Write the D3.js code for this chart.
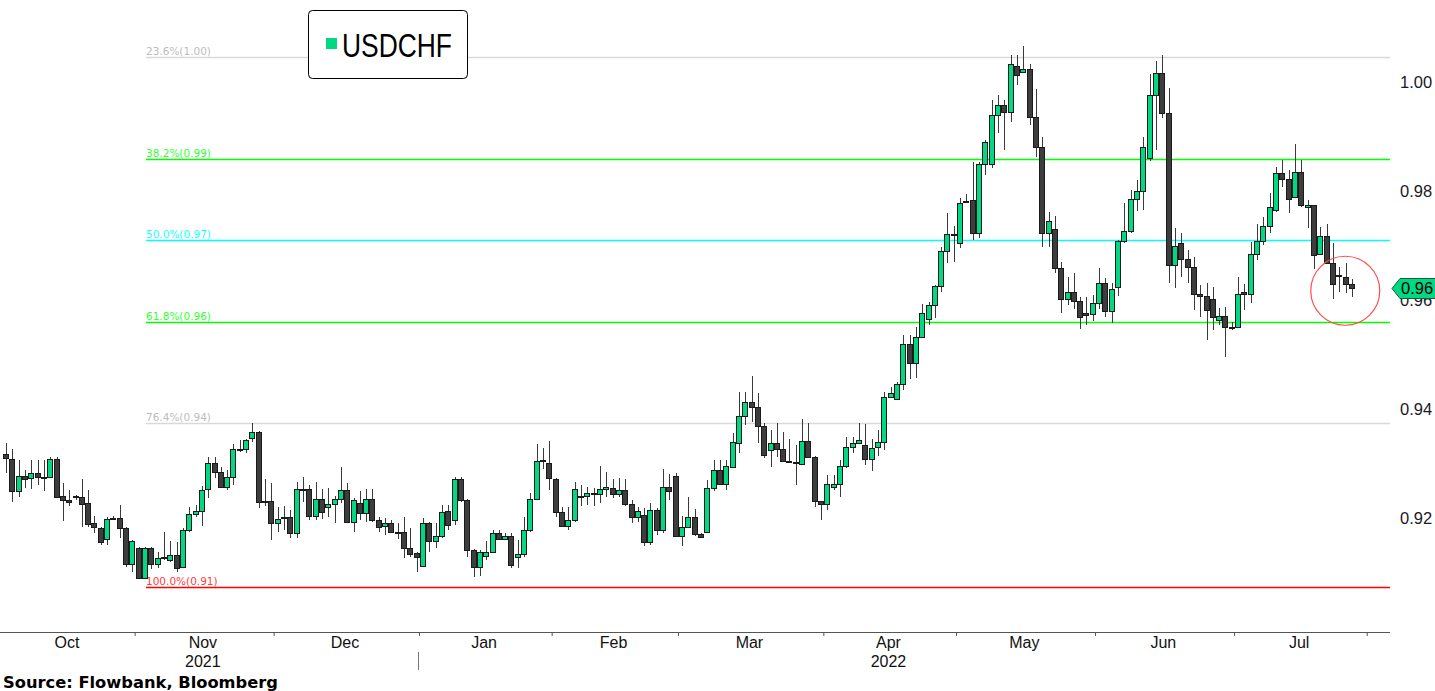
<!DOCTYPE html>
<html><head><meta charset="utf-8">
<script src="https://cdn.jsdelivr.net/npm/d3@7"></script>
<style>html,body{margin:0;padding:0;background:#fff;overflow:hidden}</style>
</head><body>
<svg id="chart" width="1435" height="691"></svg>
<script>
// ---------- DATA ----------
const seriesName = "USDCHF";
const sourceText = "Source: Flowbank, Bloomberg";
const firstDay = "2021-10-01";
const openP = [
.9318,.9308,.9250,.9277,.9273,.9282,.9274,.9275,.9308,.9240,
.9233,.9238,.9239,.9227,.9190,.9182,.9161,.9198,.9200,.9182,
.9116,.9145,.9090,.9145,.9116,.9126,.9123,.9133,.9110,.9178,
.9208,.9213,.9252,.9300,.9284,.9257,.9275,.9325,.9326,.9347,
.9358,.9230,.9231,.9190,.9199,.9202,.9172,.9252,.9253,.9204,
.9235,.9220,.9226,.9235,.9252,.9193,.9227,.9209,.9235,.9197,
.9184,.9190,.9175,.9174,.9145,.9136,.9112,.9191,.9158,.9167,
.9213,.9197,.9272,.9233,.9142,.9110,.9131,.9138,.9172,.9161,
.9167,.9129,.9134,.9178,.9235,.9304,.9300,.9272,.9211,.9186,
.9197,.9241,.9239,.9246,.9244,.9253,.9255,.9244,.9252,.9226,
.9202,.9206,.9156,.9215,.9178,.9257,.9277,.9167,.9184,.9202,
.9171,.9174,.9255,.9288,.9262,.9295,.9338,.9387,.9413,.9404,
.9369,.9325,.9338,.9327,.9304,.9302,.9298,.9341,.9312,.9231,
.9226,.9257,.9262,.9295,.9330,.9338,.9334,.9308,.9330,.9340,
.9422,.9419,.9446,.9519,.9484,.9532,.9566,.9591,.9626,.9690,
.9720,.9705,.9780,.9784,.9723,.9850,.9850,.9939,.9958,.9945,
1.0029,1.0018,1.0024,.9936,.9881,.9723,.9730,.9659,.9602,.9615,
.9598,.9576,.9574,.9594,.9631,.9580,.9624,.9708,.9727,.9785,
.9800,.9860,.9976,1.0016,.9943,.9664,.9705,.9675,.9661,.9611,
.9607,.9601,.9563,.9570,.9549,.9550,.9615,.9611,.9684,.9708,
.9736,.9765,.9833,.9822,.9789,.9835,.9771,.9775,.9684,.9717,
.9668,.9645,.9642,.9629];
const highP = [
.9337,.9326,.9307,.9288,.9307,.9307,.9307,.9312,.9312,.9264,
.9252,.9243,.9272,.9252,.9204,.9184,.9202,.9203,.9224,.9184,
.9160,.9147,.9147,.9147,.9138,.9174,.9158,.9156,.9182,.9220,
.9224,.9259,.9312,.9312,.9294,.9288,.9336,.9343,.9345,.9374,
.9360,.9272,.9264,.9220,.9222,.9215,.9266,.9275,.9261,.9266,
.9253,.9255,.9240,.9294,.9264,.9237,.9250,.9253,.9253,.9202,
.9200,.9197,.9191,.9202,.9182,.9137,.9200,.9193,.9190,.9224,
.9224,.9275,.9275,.9235,.9143,.9142,.9158,.9178,.9178,.9173,
.9172,.9160,.9202,.9246,.9336,.9328,.9341,.9274,.9220,.9220,
.9266,.9261,.9257,.9255,.9296,.9284,.9272,.9273,.9272,.9233,
.9220,.9218,.9227,.9218,.9290,.9281,.9282,.9204,.9239,.9217,
.9172,.9270,.9307,.9307,.9307,.9356,.9431,.9431,.9461,.9429,
.9374,.9362,.9374,.9358,.9345,.9334,.9382,.9374,.9314,.9232,
.9279,.9279,.9307,.9349,.9349,.9374,.9372,.9345,.9362,.9431,
.9440,.9450,.9536,.9536,.9550,.9593,.9596,.9628,.9697,.9760,
.9736,.9787,.9794,.9853,.9853,.9894,.9967,.9976,.9967,1.0050,
1.0050,1.0066,1.0033,.9987,.9899,.9762,.9754,.9670,.9642,.9650,
.9605,.9605,.9609,.9659,.9640,.9631,.9710,.9778,.9802,.9820,
.9899,1.0015,1.0038,1.0050,.9989,.9732,.9723,.9692,.9679,.9628,
.9631,.9624,.9585,.9587,.9559,.9642,.9629,.9706,.9739,.9752,
.9796,.9844,.9857,.9839,.9886,.9857,.9784,.9775,.9734,.9739,
.9705,.9661,.9668,.9639];
const lowP = [
.9282,.9229,.9239,.9255,.9253,.9261,.9250,.9273,.9237,.9195,
.9222,.9233,.9184,.9184,.9172,.9151,.9151,.9196,.9163,.9110,
.9101,.9088,.9088,.9106,.9108,.9123,.9119,.9101,.9108,.9174,
.9202,.9186,.9237,.9273,.9255,.9252,.9261,.9321,.9319,.9340,
.9218,.9222,.9160,.9174,.9178,.9163,.9163,.9229,.9197,.9197,
.9198,.9202,.9191,.9227,.9191,.9174,.9197,.9193,.9193,.9174,
.9169,.9172,.9161,.9127,.9129,.9101,.9110,.9138,.9145,.9163,
.9178,.9188,.9229,.9129,.9092,.9094,.9123,.9136,.9160,.9160,
.9108,.9108,.9129,.9174,.9233,.9290,.9252,.9202,.9184,.9178,
.9193,.9222,.9224,.9222,.9227,.9239,.9237,.9239,.9222,.9190,
.9193,.9149,.9151,.9169,.9172,.9233,.9165,.9149,.9183,.9167,
.9163,.9173,.9250,.9261,.9252,.9292,.9319,.9371,.9376,.9338,
.9310,.9294,.9312,.9303,.9301,.9261,.9297,.9310,.9220,.9197,
.9215,.9252,.9239,.9292,.9319,.9337,.9297,.9286,.9314,.9325,
.9420,.9417,.9435,.9455,.9457,.9530,.9554,.9567,.9615,.9668,
.9670,.9695,.9778,.9710,.9713,.9829,.9842,.9906,.9875,.9927,
.9994,1.0016,.9921,.9862,.9697,.9697,.9650,.9576,.9591,.9584,
.9547,.9554,.9561,.9584,.9569,.9558,.9607,.9705,.9723,.9763,
.9765,.9855,.9875,.9934,.9631,.9622,.9642,.9631,.9582,.9569,
.9527,.9545,.9554,.9495,.9545,.9549,.9582,.9595,.9674,.9701,
.9723,.9761,.9807,.9760,.9787,.9771,.9733,.9657,.9682,.9666,
.9602,.9615,.9613,.9606];
const closeP = [
.9310,.9250,.9277,.9271,.9282,.9275,.9276,.9308,.9239,.9233,
.9229,.9240,.9227,.9188,.9182,.9156,.9198,.9200,.9182,.9116,
.9158,.9090,.9145,.9116,.9127,.9128,.9133,.9110,.9178,.9208,
.9213,.9252,.9300,.9284,.9257,.9275,.9326,.9327,.9343,.9358,
.9229,.9232,.9190,.9198,.9201,.9172,.9253,.9254,.9204,.9235,
.9211,.9226,.9235,.9252,.9193,.9233,.9209,.9235,.9197,.9184,
.9190,.9174,.9173,.9145,.9134,.9129,.9191,.9158,.9167,.9211,
.9188,.9272,.9233,.9142,.9110,.9138,.9138,.9172,.9161,.9167,
.9114,.9134,.9178,.9235,.9305,.9306,.9272,.9211,.9186,.9197,
.9253,.9239,.9245,.9244,.9253,.9257,.9244,.9252,.9226,.9202,
.9213,.9156,.9215,.9178,.9257,.9250,.9167,.9184,.9202,.9171,
.9165,.9255,.9288,.9262,.9295,.9340,.9387,.9413,.9404,.9369,
.9316,.9338,.9327,.9305,.9302,.9300,.9341,.9312,.9231,.9226,
.9262,.9262,.9295,.9330,.9338,.9343,.9308,.9328,.9340,.9422,
.9429,.9446,.9519,.9484,.9532,.9576,.9591,.9626,.9690,.9721,
.9722,.9778,.9782,.9723,.9850,.9890,.9939,.9958,.9945,1.0033,
1.0013,1.0024,.9936,.9881,.9723,.9745,.9659,.9602,.9615,.9598,
.9569,.9572,.9594,.9631,.9580,.9620,.9708,.9727,.9785,.9800,
.9881,.9976,1.0016,.9943,.9664,.9699,.9675,.9661,.9611,.9607,
.9582,.9568,.9570,.9550,.9551,.9611,.9611,.9684,.9708,.9736,
.9771,.9833,.9822,.9785,.9835,.9775,.9775,.9684,.9717,.9668,
.9629,.9643,.9629,.9622];
const fibLabels = ["23.6%(1.00)","38.2%(0.99)","50.0%(0.97)","61.8%(0.96)","76.4%(0.94)","100.0%(0.91)"];
const fibValues = [1.0046, 0.9859, 0.9710, 0.9560, 0.9374, 0.9073];
const fibAnchorIndex = 22;           // candle of the swing low where the levels start
const yTickValues = [0.92, 0.94, 0.96, 0.98, 1.00];
const yearLabels = ["2021", "2022"];
const yearLabelMonth = [10, 3];      // month (0-based) under which each year label sits
const circleCenter = {idx: 211.8, value: 0.9617};

// ---------- STYLE ----------
const fibLineColors  = ["#d9d9d9","#00ff00","#00ffff","#00ff00","#d9d9d9","#ff0000"];
const fibLabelColors = ["#bdbdbd","#33ff33","#1affff","#33ff33","#bdbdbd","#ff4040"];
const UP = "#00d883", DOWN = "#3d3d3d", EDGE = "#1a1a1a", WICK = "#3a3a3a";
const FONT = "Liberation Sans, Arial, sans-serif";

// ---------- SCALES ----------
const svg = d3.select("#chart");
const n = closeP.length;
const days = d3.timeDay.range(d3.timeParse("%Y-%m-%d")(firstDay), new Date(2022, 7, 1))
  .filter(d => d.getDay() !== 0 && d.getDay() !== 6);
const x = d3.scaleLinear().domain([0, n]).range([3.84, 1356]);
const y = d3.scaleLinear().domain([0.92, 1.00]).range([518, 82]);
const plotRight = 1390, axisY = 632;

// ---------- FIB LEVELS ----------
const fibX0 = x(fibAnchorIndex + 0.5);
const fg = svg.append("g");
fibValues.forEach((v, i) => {
  const yy = Math.round(y(v)) + 0.5;
  fg.append("line").attr("x1", fibX0).attr("x2", plotRight).attr("y1", yy).attr("y2", yy)
    .attr("stroke", fibLineColors[i]).attr("stroke-width", 1.4);
  fg.append("text").attr("x", fibX0).attr("y", yy - 2.5).text(fibLabels[i])
    .attr("font-family", "DejaVu Sans, Verdana, sans-serif").attr("font-size", 10.5)
    .attr("fill", fibLabelColors[i]);
});

// ---------- CANDLES ----------
const cg = svg.append("g").attr("shape-rendering", "crispEdges");
d3.range(n).forEach(i => {
  const cx = Math.round(x(i + 0.5));
  const o = openP[i], c = closeP[i];
  cg.append("line").attr("x1", cx - 0.5).attr("x2", cx - 0.5)
    .attr("y1", y(highP[i])).attr("y2", y(lowP[i]))
    .attr("stroke", WICK).attr("stroke-width", 1);
  const top = y(Math.max(o, c)), bot = y(Math.min(o, c));
  cg.append("rect").attr("x", cx - 3.5).attr("width", 5)
    .attr("y", Math.round(top) + 0.5).attr("height", Math.max(1, Math.round(bot - top)))
    .attr("fill", c > o ? UP : DOWN).attr("stroke", EDGE).attr("stroke-width", 1);
});

// ---------- RIGHT AXIS ----------
const ya = svg.append("g").attr("transform", "translate(1400,0)")
  .call(d3.axisRight(y).tickValues(yTickValues).tickFormat(d3.format(".2f")).tickSize(0).tickPadding(0));
ya.select(".domain").remove();
ya.selectAll("text").attr("font-family", FONT).attr("font-size", 16.5).attr("fill", "#1a1a24");

// ---------- CURRENT PRICE BADGE ----------
const last = closeP[n - 1], by = Math.round(y(last)) + 0.5;
svg.append("path")
  .attr("d", `M1392,${by} L1400,${by - 10} L1436,${by - 10} L1436,${by + 10} L1400,${by + 10} Z`)
  .attr("fill", UP).attr("stroke", "#1d5e3a").attr("stroke-width", 1);
svg.append("text").attr("x", 1401).attr("y", by).attr("dy", "0.36em").text(d3.format(".2f")(last))
  .attr("font-family", FONT).attr("font-size", 16.5).attr("fill", "#000");

// ---------- ANNOTATION CIRCLE ----------
svg.append("circle").attr("cx", x(circleCenter.idx + 0.5)).attr("cy", y(circleCenter.value)).attr("r", 34.5)
  .attr("fill", "none").attr("stroke", "#ff4d4d").attr("stroke-width", 1.2);

// ---------- BOTTOM AXIS ----------
const monthStarts = d3.range(days.length).filter(i => i === 0 || days[i].getMonth() !== days[i - 1].getMonth());
const bounds = monthStarts.concat([days.length]);
svg.append("line").attr("x1", 0).attr("x2", plotRight).attr("y1", axisY + 0.5).attr("y2", axisY + 0.5)
  .attr("stroke", "#555").attr("stroke-width", 1);
const xa = svg.append("g").attr("transform", `translate(0,${axisY})`)
  .call(d3.axisBottom(x).tickValues(bounds.slice(1).map(b => b - 0.3)).tickSize(4).tickFormat(""));
xa.select(".domain").remove();
xa.selectAll("line").attr("stroke", "#555");
const fmt = d3.timeFormat("%b");
const monthCenters = monthStarts.map((s, k) => (x(s - 0.5) + x(bounds[k + 1] - 0.5)) / 2);
svg.append("g").selectAll("text").data(monthStarts).join("text")
  .attr("x", (s, k) => monthCenters[k]).attr("y", 648).attr("text-anchor", "middle")
  .attr("font-family", FONT).attr("font-size", 16).attr("fill", "#111")
  .text(s => fmt(days[s]));
yearLabels.forEach((yl, k) => {
  const mi = monthStarts.findIndex(s => days[s].getMonth() === yearLabelMonth[k] && String(days[s].getFullYear()) === yl);
  svg.append("text").attr("x", monthCenters[mi]).attr("y", 667).attr("text-anchor", "middle")
    .attr("font-family", FONT).attr("font-size", 16).attr("fill", "#111").text(yl);
});
const yearStart = monthStarts.find(s => s > 0 && days[s].getFullYear() !== days[s - 1].getFullYear());
const sepX = Math.round(x(yearStart - 0.3)) - 0.5;
svg.append("line").attr("x1", sepX).attr("x2", sepX)
  .attr("y1", 652).attr("y2", 670).attr("stroke", "#777").attr("stroke-width", 1);

// ---------- LEGEND ----------
svg.append("rect").attr("x", 308.5).attr("y", 10.5).attr("width", 159).attr("height", 68).attr("rx", 4)
  .attr("fill", "#fff").attr("stroke", "#000").attr("stroke-width", 1);
svg.append("rect").attr("x", 326).attr("y", 38).attr("width", 11).attr("height", 11).attr("fill", UP);
svg.append("text").attr("x", 342).attr("y", 57).text(seriesName)
  .attr("font-family", FONT).attr("font-size", 34)
  .attr("textLength", 110).attr("lengthAdjust", "spacingAndGlyphs").attr("fill", "#000");

// ---------- SOURCE ----------
svg.append("text").attr("x", 3).attr("y", 688).text(sourceText)
  .attr("font-family", "DejaVu Sans, Verdana, sans-serif").attr("font-weight", "bold")
  .attr("font-size", 16.3).attr("fill", "#000");
</script>
</body></html>
